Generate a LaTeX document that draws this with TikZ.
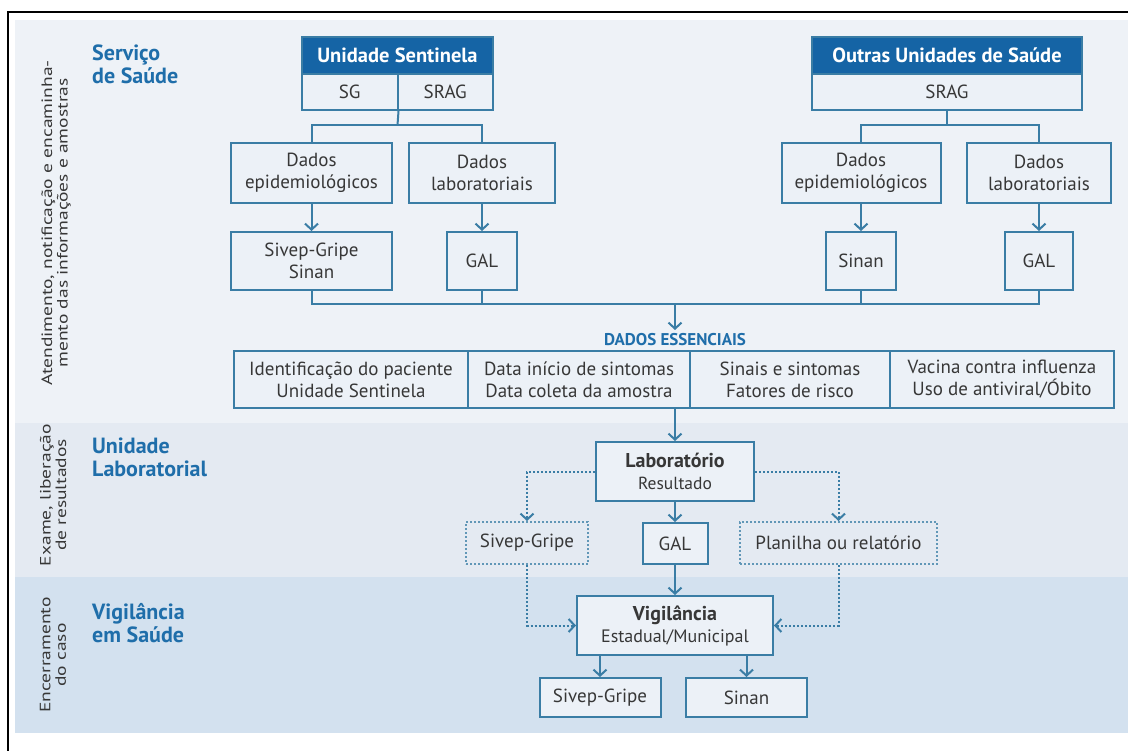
\documentclass[tikz,border=0pt]{standalone}
\usepackage{fontspec}
\setmainfont{PT Sans}
\usetikzlibrary{arrows.meta}

\definecolor{linha}{RGB}{58,125,165}
\definecolor{cabeca}{RGB}{21,100,165}
\definecolor{titulo}{RGB}{31,110,170}
\definecolor{texto}{RGB}{55,55,55}
\definecolor{faixaA}{RGB}{238,242,247}
\definecolor{faixaB}{RGB}{228,234,242}
\definecolor{faixaC}{RGB}{211,225,239}
\definecolor{caixa}{RGB}{236,241,247}

\tikzset{
    caixa/.style={draw=linha, line width=2, fill=caixa, text=texto, align=center,
        inner sep=0, font=\fontsize{19}{22}\selectfont},
    pontilhada/.style={caixa, draw=linha!80, dotted, line width=2, fill=none},
    cabecalho/.style={caixa, fill=cabeca, text=white, font=\fontsize{20.5}{22}\bfseries},
    secao/.style={text=titulo, align=left, anchor=north west, inner sep=0,
        font=\fontsize{22}{23}\selectfont\bfseries},
    lateral/.style={text=texto, rotate=90, xscale=1.3, align=center, inner sep=0,
        font=\fontsize{15}{15.5}\selectfont},
    liga/.style={draw=linha, line width=2},
    seta/.style={liga, -{Straight Barb[length=6,width=13,line width=2]}},
    setap/.style={seta, dotted},
}

\begin{document}
\begin{tikzpicture}[x=1pt,y=-1pt]
    \useasboundingbox (0,0) rectangle (1128,751);
    % faixas de fundo
    \fill[faixaA] (15,20) rectangle (1128,423);
    \fill[faixaB] (15,423) rectangle (1128,577);
    \fill[faixaC] (15,577) rectangle (1128,733);
    \draw[black, line width=1.5] (8,751) -- (8,12) -- (1128,12);

    % rotulos laterais e secoes
    \node[lateral] (l1) at (56,223) {Atendimento, notificação e encaminha-\\mento das informações e amostras};
    \node[lateral] (l2) at (53,495) {Exame, liberação\\de resultados};
    \node[lateral] (l3) at (53,655) {Encerramento\\do caso};
    \node[secao] (s1) at (92,45) {Serviço\\de Saúde};
    \node[secao] (s2) at (92,438) {Unidade\\Laboratorial};
    \node[secao] (s3) at (92,603) {Vigilância\\em Saúde};

    % unidades de saude
    \node[cabecalho, minimum width=191, minimum height=37] (hsent) at (397.5,55.5) {Unidade Sentinela};
    \node[caixa, minimum width=95.5, minimum height=36] (sg) at (349.75,92) {SG};
    \node[caixa, minimum width=95.5, minimum height=36] (srag1) at (445.25,92) {SRAG};
    \node[cabecalho, minimum width=270, minimum height=37] (hout) at (947,55.5) {Outras Unidades de Saúde};
    \node[caixa, minimum width=270, minimum height=36] (srag2) at (947,92) {SRAG};

    % dados
    \node[caixa, minimum width=161, minimum height=60] (epi1) at (311.5,173) {Dados\\epidemiológicos};
    \node[caixa, minimum width=146, minimum height=60] (lab1) at (482,173) {Dados\\laboratoriais};
    \node[caixa, minimum width=159, minimum height=60] (epi2) at (861,173) {Dados\\epidemiológicos};
    \node[caixa, minimum width=144, minimum height=60] (lab2) at (1039,173) {Dados\\laboratoriais};
    \node[caixa, minimum width=161, minimum height=58] (sivep1) at (311.5,261) {Sivep-Gripe\\Sinan};
    \node[caixa, minimum width=70, minimum height=58] (gal1) at (482,261) {GAL};
    \node[caixa, minimum width=70, minimum height=58] (sinan1) at (861,261) {Sinan};
    \node[caixa, minimum width=68, minimum height=58] (gal2) at (1039,261) {GAL};

    % dados essenciais
    \node[text=titulo, font=\fontsize{17}{19}\selectfont\bfseries, inner sep=0] (ess) at (675,340) {DADOS ESSENCIAIS};
    \node[caixa, minimum width=234, minimum height=57] (c1) at (351,379.5) {Identificação do paciente\\Unidade Sentinela};
    \node[caixa, minimum width=222, minimum height=57] (c2) at (579,379.5) {Data início de sintomas\\Data coleta da amostra};
    \node[caixa, minimum width=200, minimum height=57] (c3) at (790,379.5) {Sinais e sintomas\\Fatores de risco};
    \node[caixa, minimum width=224, minimum height=57] (c4) at (1002,379.5) {Vacina contra influenza\\Uso de antiviral/Óbito};

    % laboratorio
    \node[caixa, minimum width=158, minimum height=59] (lab) at (675,471.5) {{\fontsize{20}{22}\selectfont\bfseries Laboratório}\\{\fontsize{17.5}{19}\selectfont Resultado}};
    \node[caixa, minimum width=65, minimum height=41] (gal3) at (675,543.5) {GAL};
    \node[pontilhada, minimum width=122, minimum height=42] (sivep2) at (527,543) {Sivep-Gripe};
    \node[pontilhada, minimum width=197, minimum height=42] (plan) at (838.5,543) {Planilha ou relatório};

    % vigilancia
    \node[caixa, minimum width=196, minimum height=59] (vig) at (675,625.5) {{\fontsize{20}{22}\selectfont\bfseries Vigilância}\\{\fontsize{18}{19}\selectfont Estadual/Municipal}};
    \node[caixa, minimum width=121, minimum height=39] (sivep3) at (600,697.5) {Sivep-Gripe};
    \node[caixa, minimum width=121, minimum height=39] (sinan3) at (746.5,697.5) {Sinan};

    % ligacoes superiores
    \coordinate (r1) at (397.5,125);
    \coordinate (r2) at (947,125);
    \draw[liga] (sg.south east) -- (r1);
    \draw[liga] (epi1.north) |- (r1) -| (lab1.north);
    \draw[liga] (srag2.south) -- (r2);
    \draw[liga] (epi2.north) |- (r2) -| (lab2.north);
    \draw[seta] (epi1) -- (sivep1);
    \draw[seta] (lab1) -- (gal1);
    \draw[seta] (epi2) -- (sinan1);
    \draw[seta] (lab2) -- (gal2);

    % juncao inferior
    \coordinate (j) at (675,304);
    \draw[liga] (sivep1.south) |- (j);
    \draw[liga] (gal1.south) |- (j);
    \draw[liga] (sinan1.south) |- (j);
    \draw[liga] (gal2.south) |- (j);
    \draw[seta] (j) -- (ess.north |- 0,330);
    \draw[seta] (lab.north |- c2.south) -- (lab.north);

    % resultados
    \draw[seta] (lab) -- (gal3);
    \draw[seta] (gal3) -- (vig);
    \draw[setap] (lab.west) -| (sivep2.north);
    \draw[setap] (lab.east) -| (plan.north);
    \draw[setap] (sivep2.south) |- (vig.west);
    \draw[setap] (plan.south) |- (vig.east);
    \draw[seta] (vig.south -| sivep3.north) -- (sivep3.north);
    \draw[seta] (vig.south -| sinan3.north) -- (sinan3.north);
\end{tikzpicture}
\end{document}
